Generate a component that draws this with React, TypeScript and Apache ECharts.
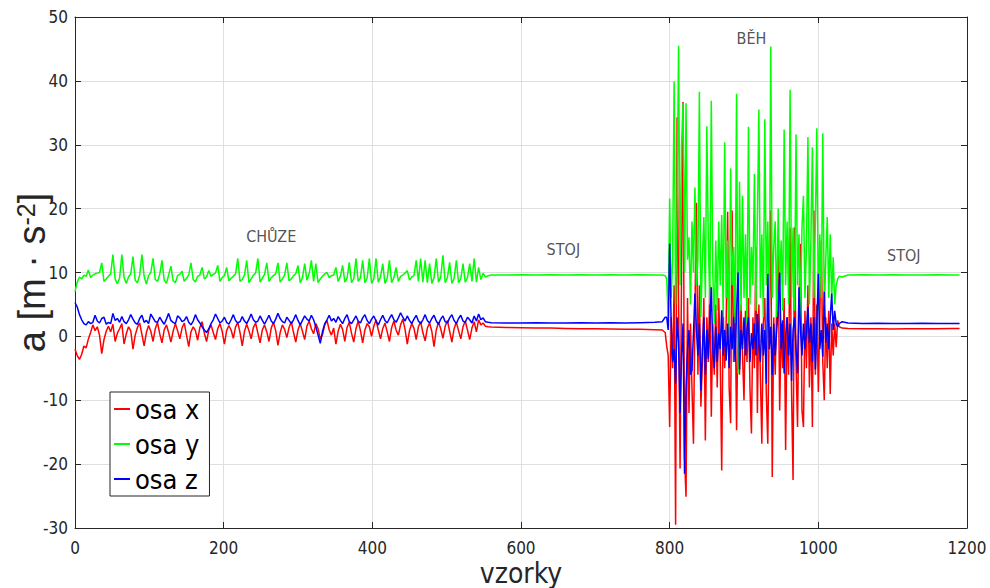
import React, { useEffect, useRef } from "react";
import * as echarts from "echarts";

// ---- sample indices (x) per segment ----
const walkSamples = [
  0, 3, 6, 9, 12, 15, 18, 21, 24, 27,
  30, 33, 36, 39, 42, 45, 48, 51, 54, 57,
  60, 63, 66, 69, 72, 75, 78, 81, 84, 87,
  90, 93, 96, 99, 102, 105, 108, 111, 114, 117,
  120, 123, 126, 129, 132, 135, 138, 141, 144, 147,
  150, 153, 156, 159, 162, 165, 168, 171, 174, 177,
  180, 183, 186, 189, 192, 195, 198, 201, 204, 207,
  210, 213, 216, 219, 222, 225, 228, 231, 234, 237,
  240, 243, 246, 249, 252, 255, 258, 261, 264, 267,
  270, 273, 276, 279, 282, 285, 288, 291, 294, 297,
  300, 303, 306, 309, 312, 315, 318, 321, 324, 327,
  330, 333, 336, 339, 342, 345, 348, 351, 354, 357,
  360, 363, 366, 369, 372, 375, 378, 381, 384, 387,
  390, 393, 396, 399, 402, 405, 408, 411, 414, 417,
  420, 423, 426, 429, 432, 435, 438, 441, 444, 447,
  450, 453, 456, 459, 462, 465, 468, 471, 474, 477,
  480, 483, 486, 489, 492, 495, 498, 501, 504, 507,
  510, 513, 516, 519, 522, 525, 528, 531, 534, 537,
  540, 543, 546, 549, 552,
];
const stand1Samples = [556, 560, 580, 600, 620, 640, 660, 680, 700, 720, 740, 760, 780, 790, 794];
const runSamples = [
  796, 798, 800, 802, 804, 806, 808, 810, 812, 814,
  816, 818, 820, 822, 824, 826, 828, 830, 832, 834,
  836, 838, 840, 842, 844, 846, 848, 850, 852, 854,
  856, 858, 860, 862, 864, 866, 868, 870, 872, 874,
  876, 878, 880, 882, 884, 886, 888, 890, 892, 894,
  896, 898, 900, 902, 904, 906, 908, 910, 912, 914,
  916, 918, 920, 922, 924, 926, 928, 930, 932, 934,
  936, 938, 940, 942, 944, 946, 948, 950, 952, 954,
  956, 958, 960, 962, 964, 966, 968, 970, 972, 974,
  976, 978, 980, 982, 984, 986, 988, 990, 992, 994,
  996, 998, 1000, 1002, 1004, 1006, 1008, 1010, 1012, 1014,
  1016, 1018, 1020, 1022, 1024, 1026, 1028,
];
const stand2Samples = [1032, 1040, 1060, 1080, 1100, 1120, 1140, 1160, 1180, 1190];

// ---- osa x (red) ----
const walkX = [
  -2.0, -3.0, -3.6, -2.8, -1.5, -1.8, -0.4, 0.6, 1.8, 0.9,
  1.5, 0.2, -2.7, -0.5, 0.8, 1.6, 0.7, 1.9, -0.8, 0.5,
  1.2, 2.0, -1.2, 0.4, 1.5, 0.9, -2.0, 0.2, 1.4, 2.1,
  0.3, -1.5, 0.6, 1.7, 0.8, -0.8, 1.2, 2.2, 0.4, -1.0,
  1.0, 1.8, 0.6, -0.9, 0.8, 2.0, 0.9, -0.4, 1.3, 2.1,
  0.2, -1.6, 0.7, 1.5, 0.9, -0.6, 1.4, 2.3, 0.5, -0.8,
  1.0, 1.8, 0.6, -0.5, 1.2, 2.0, 0.8, -1.2, 0.9, 1.7,
  1.0, -0.3, 1.5, 2.2, 0.6, -1.5, 0.8, 1.9, 0.9, -0.4,
  1.4, 2.1, 0.5, -1.0, 1.0, 1.8, 0.7, -0.8, 1.3, 2.2,
  0.9, -1.4, 0.6, 1.8, 1.1, -0.2, 1.4, 2.3, 0.6, -0.9,
  1.0, 2.0, 0.8, -0.5, 1.6, 2.4, 1.2, 0.4, 2.0, 1.2,
  -0.4, 0.3, 1.8, 2.5, 1.0, 0.2, 1.3, -1.2, 0.8, 1.9,
  1.1, -0.8, 1.4, 2.2, 0.5, -0.9, 1.2, 2.4, 0.9, -1.0,
  1.0, 2.0, 1.5, 0.0, 1.6, 2.6, 1.0, -0.4, 1.2, 2.1,
  0.7, -0.8, 1.4, 2.4, 1.0, 0.2, 1.8, 2.7, 1.1, -1.2,
  0.9, 2.0, 1.3, -0.5, 1.5, 2.3, 0.6, -0.7, 1.3, 2.1,
  0.8, -1.6, 1.0, 2.2, 1.2, -0.3, 1.6, 2.5, 0.8, -0.9,
  1.2, 2.2, 0.9, -0.4, 1.5, 2.4, 1.0, -0.5, 1.3, 2.3,
  0.7, 2.6, 1.8, 2.1, 1.6,
];
const stand1X = [1.5, 1.45, 1.4, 1.35, 1.3, 1.3, 1.25, 1.2, 1.2, 1.15, 1.1, 1.1, 1.05, 1.0, 0.6];
const runX = [
  -1.5, -3.0, -14.2, 3.0, -5.0, 8.0, -29.5, 34.3, 5.0, -20.7,
  10.0, 36.7, -18.9, -25.1, 6.0, -12.0, 2.0, -8.0, -16.8, 4.0,
  20.9, -6.0, 8.0, -11.0, -4.0, 6.0, -16.3, 3.0, -4.0, 8.0,
  -12.6, 2.0, -6.0, 5.0, -8.0, 6.0, -3.0, -21.0, 4.0, -5.0,
  2.0, 19.5, -8.0, -13.6, 19.7, -4.0, 6.0, -14.7, 3.0, -6.0,
  5.0, -3.0, -10.0, 4.0, -4.0, 6.0, -8.0, -15.2, 3.0, -5.0,
  14.0, -12.0, 5.0, -6.0, -16.8, 2.0, 6.0, -9.0, -16.8, 4.0,
  19.7, -22.0, 3.0, -6.0, 5.0, 13.6, -11.6, 2.0, -5.0, 6.0,
  -17.8, 3.0, -6.0, 17.0, -9.0, -22.5, 17.1, -4.0, -14.2, 5.0,
  14.5, -11.6, -14.2, 4.0, -5.0, 8.0, -8.0, 3.0, -14.2, 19.7,
  -6.0, 5.0, -8.7, 3.0, 15.0, -4.0, -10.0, 3.0, -5.0, 4.0,
  -9.0, 2.0, -3.0, 2.0, -1.7, 2.5, 1.5,
];
const stand2X = [1.3, 1.25, 1.2, 1.2, 1.15, 1.2, 1.2, 1.2, 1.25, 1.25];

// ---- osa y (green) ----
const walkY = [
  7.0, 8.5, 9.3, 9.0, 9.6, 9.4, 10.4, 9.2, 9.6, 9.8,
  9.9, 10.0, 11.5, 8.6, 9.0, 9.4, 9.8, 12.8, 9.0, 8.2,
  9.1, 12.8, 9.2, 8.3, 9.3, 9.8, 12.5, 8.8, 8.4, 9.6,
  12.8, 9.4, 8.2, 9.5, 10.0, 12.2, 8.9, 8.6, 9.7, 11.9,
  8.8, 8.3, 9.6, 11.0, 8.7, 8.4, 9.5, 9.7, 10.2, 8.6,
  9.1, 9.6, 11.5, 8.9, 8.5, 9.4, 9.6, 10.8, 9.0, 9.3,
  10.3, 9.4, 9.7, 9.9, 11.1, 8.6, 9.2, 9.5, 10.8, 8.7,
  9.1, 9.4, 9.8, 12.2, 8.6, 8.9, 9.6, 11.9, 8.4, 9.0,
  9.6, 9.9, 12.2, 8.5, 9.1, 9.7, 11.5, 8.6, 9.2, 9.5,
  9.8, 11.5, 8.5, 9.0, 9.6, 11.5, 8.7, 9.0, 9.5, 9.8,
  11.1, 8.4, 9.2, 11.4, 8.8, 9.8, 11.9, 8.6, 11.4, 8.4,
  9.0, 9.4, 9.8, 10.0, 9.2, 9.5, 9.6, 10.8, 8.6, 9.4,
  11.1, 8.5, 9.1, 11.6, 8.4, 9.0, 12.2, 8.6, 9.2, 11.9,
  8.4, 9.1, 12.2, 8.3, 9.0, 12.2, 8.5, 9.3, 11.4, 8.3,
  9.1, 11.9, 8.4, 9.2, 10.8, 8.6, 9.4, 9.6, 9.9, 10.3,
  8.8, 9.3, 9.5, 11.9, 8.6, 12.2, 8.5, 11.9, 8.4, 11.4,
  8.3, 9.2, 12.2, 8.5, 9.3, 12.7, 8.4, 9.2, 11.6, 8.3,
  9.1, 11.9, 8.4, 9.0, 11.4, 8.5, 9.2, 11.4, 8.6, 12.2,
  8.5, 10.8, 8.9, 9.9, 9.3,
];
const stand1Y = [9.5, 9.6, 9.6, 9.65, 9.6, 9.65, 9.6, 9.65, 9.6, 9.65, 9.6, 9.65, 9.6, 9.6, 9.5];
const runY = [
  9.0, 3.0, 21.6, 6.0, 12.0, 39.9, 5.0, 20.0, 45.5, 8.0,
  30.0, 36.5, 10.0, 36.5, 12.0, 15.5, 5.0, 18.0, 10.0, 23.3,
  8.0, 12.0, 38.3, 3.0, 12.0, 18.7, 6.0, 32.9, 15.0, 5.0,
  36.9, 10.0, 2.0, 15.0, 4.0, 18.0, 8.0, 19.0, 3.0, 30.4,
  6.0, 15.0, 0.0, 26.3, 8.0, 14.0, 2.0, 38.0, -5.8, 24.2,
  4.0, 22.0, 6.0, 16.0, 2.0, 32.8, 5.0, 14.0, 8.0, 25.4,
  4.0, 18.0, 35.5, 6.0, 16.0, 3.0, 34.0, 8.0, 18.0, 2.0,
  45.4, 6.0, 14.0, 18.0, 3.0, 20.0, 8.0, 15.0, 4.0, 32.4,
  8.0, 18.0, 5.0, 38.6, 6.0, 17.0, 4.0, 31.6, 8.0, 16.0,
  3.0, 17.0, 22.0, 6.0, 14.0, 31.2, 5.0, 15.0, 29.6, 6.0,
  18.0, 32.6, 4.0, 16.0, 6.0, 31.8, 4.0, 12.0, 18.7, 6.0,
  16.0, 6.0, 12.4, 5.0, 8.0, 9.0, 9.4,
];
const stand2Y = [9.3, 9.6, 9.65, 9.6, 9.65, 9.6, 9.6, 9.65, 9.6, 9.6];

// ---- osa z (blue) ----
const walkZ = [
  5.3, 4.6, 3.4, 2.6, 2.0, 1.8, 2.3, 2.0, 2.2, 3.3,
  2.4, 2.1, 2.8, 3.0, 1.9, 2.2, 2.0, 3.6, 2.5, 2.8,
  2.2, 3.1, 2.3, 2.0, 2.6, 3.4, 2.7, 2.1, 1.9, 2.8,
  3.3, 2.2, 2.5, 2.0, 3.5, 2.9, 2.3, 2.2, 3.0, 2.4,
  1.9, 2.7, 3.6, 2.5, 2.2, 2.0, 3.2, 2.9, 2.3, 2.5,
  3.1, 2.2, 1.8, 2.4, 3.4, 2.6, 2.1, 1.5, 1.0, 0.6,
  1.2, 2.0, 2.6, 3.5, 2.8, 2.1, 2.4, 3.0, 2.2, 1.9,
  2.6, 3.4, 2.5, 2.1, 2.3, 3.1, 2.4, 2.0, 2.7, 3.5,
  2.6, 2.2, 2.4, 3.2, 2.5, 1.9, 2.6, 3.3, 2.4, 2.0,
  2.7, 3.6, 2.8, 2.3, 2.1, 3.0, 2.5, 2.0, 2.6, 3.4,
  2.5, 1.8, 2.5, 3.2, 2.7, 2.4, 3.3, 2.6, 1.5, 0.2,
  -1.1, 0.8, 2.0, 2.6, 3.3, 2.4, 2.8, 2.2, 3.1, 2.5,
  2.0, 2.8, 3.4, 2.3, 2.0, 2.6, 3.2, 2.4, 2.1, 2.9,
  3.4, 2.5, 2.0, 2.7, 3.2, 2.4, 1.8, 2.6, 3.3, 2.5,
  2.1, 2.8, 3.4, 2.6, 2.2, 2.9, 3.7, 3.0, 2.4, 3.2,
  2.5, 2.0, 2.7, 3.3, 2.4, 2.0, 2.6, 3.4, 2.5, 2.1,
  2.8, 3.3, 2.4, 1.9, 2.7, 3.2, 2.3, 2.1, 2.9, 3.4,
  2.5, 2.0, 2.8, 3.3, 2.4, 2.2, 3.0, 2.6, 2.1, 3.2,
  2.4, 3.5, 2.6, 2.9, 2.3,
];
const stand1Z = [2.2, 2.15, 2.1, 2.1, 2.15, 2.1, 2.1, 2.15, 2.1, 2.15, 2.1, 2.15, 2.2, 2.3, 3.0];
const runZ = [
  3.0, 1.0, 14.5, 2.0, -4.0, -2.0, -7.4, 3.0, -1.0, -12.0,
  -3.0, 2.0, -21.5, -8.0, -2.0, 1.0, -6.0, -5.3, 0.5, 6.7,
  1.0, -3.0, 2.0, -8.5, -2.0, 3.0, -6.0, 1.0, -3.5, 2.0,
  7.7, -2.0, -5.0, 1.5, -4.0, 0.5, -2.0, 4.1, -3.0, 1.0,
  -3.8, 2.0, -5.0, 1.5, -2.0, 3.0, -4.0, 4.0, 10.0, -5.2,
  1.0, -2.0, 3.0, -3.0, 1.0, 3.0, -4.0, 0.5, -2.0, 2.0,
  -3.0, 3.5, -1.0, -4.0, 2.0, -3.0, 1.0, -7.4, 9.8, -2.0,
  1.5, -6.0, 2.0, -3.0, 1.0, 4.0, 10.0, -2.0, 2.5, -5.8,
  0.0, 3.0, -3.0, 2.0, -7.0, 1.0, 3.0, -2.0, -5.8, 7.7,
  1.0, -3.0, 2.0, -2.0, 1.0, 4.6, -1.0, 2.0, -4.0, 3.0,
  -5.2, 2.0, 9.8, -2.0, 1.0, -3.2, 7.0, -1.0, 2.0, -2.0,
  3.0, 6.7, 1.0, 4.0, 2.0, 1.5, 2.0,
];
const stand2Z = [2.3, 2.1, 2.0, 2.05, 2.0, 2.0, 2.05, 2.0, 2.0, 2.0];

const seriesNames = ["osa x", "osa y", "osa z"];
const seriesColors = ["#ff0000", "#00ff00", "#0000ff"];

const xTicks = { min: 0, max: 1200, interval: 200 };
const yTicks = { min: -30, max: 50, interval: 10 };

const annotations = [
  { text: "CHŮZE", x: 264, y: 15.6 },
  { text: "STOJ", x: 657, y: 13.6 },
  { text: "BĚH", x: 910, y: 46.6 },
  { text: "STOJ", x: 1115, y: 12.7 },
];

const NARROW = "'Liberation Sans Narrow', 'Arial Narrow', 'DejaVu Sans Condensed', 'Liberation Sans', sans-serif";
const SANS = "'Liberation Sans', Arial, Helvetica, sans-serif";
const AXIS = "#262626";

export default function App() {
  const ref = useRef<HTMLDivElement>(null);

  useEffect(() => {
    if (!ref.current) return;
    const chart = echarts.init(ref.current, undefined, { renderer: "svg" });

    const samples = [...walkSamples, ...stand1Samples, ...runSamples, ...stand2Samples];
    const valueSets = [
      [...walkX, ...stand1X, ...runX, ...stand2X],
      [...walkY, ...stand1Y, ...runY, ...stand2Y],
      [...walkZ, ...stand1Z, ...runZ, ...stand2Z],
    ];

    const lineSeries = valueSets.map((vals, k) => ({
      name: seriesNames[k],
      type: "line",
      data: samples.map((s, i) => [s, vals[i]]),
      showSymbol: false,
      symbol: "none",
      lineStyle: { color: seriesColors[k], width: 1.5 },
      itemStyle: { color: seriesColors[k] },
      z: 2 + k,
    }));

    const mainAxisLine = { show: true, onZero: false, lineStyle: { color: AXIS, width: 1 } };
    const tick = { show: true, inside: true, length: 6, lineStyle: { color: AXIS, width: 1 } };

    chart.setOption({
      animation: false,
      backgroundColor: "#ffffff",
      grid: {
        left: 75,
        right: 23,
        top: 17,
        bottom: 60,
        containLabel: false,
        outerBoundsMode: "none",
      },
      legend: {
        data: seriesNames,
        orient: "vertical",
        left: 110,
        top: 392,
        icon: "rect",
        itemWidth: 16,
        itemHeight: 2,
        itemGap: 5,
        padding: [2, 10, 2, 4],
        borderColor: "#262626",
        borderWidth: 1,
        backgroundColor: "#ffffff",
        selectedMode: false,
        textStyle: { fontSize: 27, fontFamily: NARROW, color: "#000000", lineHeight: 30 },
      },
      xAxis: [
        {
          type: "value",
          position: "bottom",
          ...xTicks,
          name: "vzorky",
          nameLocation: "middle",
          nameGap: 31,
          nameMoveOverlap: false,
          nameTextStyle: { fontSize: 28, fontFamily: NARROW, color: AXIS, lineHeight: 28 },
          axisLine: mainAxisLine,
          axisTick: tick,
          axisLabel: {
            fontSize: 17,
            lineHeight: 17,
            fontFamily: NARROW,
            color: AXIS,
            margin: 11,
            formatter: (v: number) => String(v),
          },
          splitLine: { show: true, lineStyle: { color: "#dfdfdf", width: 1 } },
        },
        {
          type: "value",
          position: "top",
          ...xTicks,
          axisLine: mainAxisLine,
          axisTick: tick,
          axisLabel: { show: false },
          splitLine: { show: false },
        },
      ],
      yAxis: [
        {
          type: "value",
          position: "left",
          ...yTicks,
          name: "a [m · s{sup|-2}]",
          nameLocation: "middle",
          nameGap: 24,
          nameMoveOverlap: false,
          nameTextStyle: {
            fontSize: 38,
            fontFamily: SANS,
            color: AXIS,
            rich: {
              sup: {
                fontSize: 25,
                fontFamily: SANS,
                color: AXIS,
                verticalAlign: "top",
              },
            },
          },
          axisLine: mainAxisLine,
          axisTick: tick,
          axisLabel: {
            fontSize: 17,
            fontFamily: NARROW,
            color: AXIS,
            margin: 7,
            formatter: (v: number) => String(v),
          },
          splitLine: { show: true, lineStyle: { color: "#dfdfdf", width: 1 } },
        },
        {
          type: "value",
          position: "right",
          ...yTicks,
          axisLine: mainAxisLine,
          axisTick: tick,
          axisLabel: { show: false },
          splitLine: { show: false },
        },
      ],
      series: [
        ...lineSeries,
        {
          name: "annotations",
          type: "scatter",
          silent: true,
          symbolSize: 0,
          data: annotations.map((a) => ({ name: a.text, value: [a.x, a.y] })),
          label: {
            show: true,
            position: "inside",
            formatter: (p: any) => p.name,
            fontSize: 16,
            fontFamily: NARROW,
            color: AXIS,
          },
          z: 10,
        },
      ],
    });

    return () => chart.dispose();
  }, []);

  return (
    <div
      ref={ref}
      style={{ position: "fixed", left: 0, top: 0, width: 990, height: 588, background: "#fff" }}
    />
  );
}
